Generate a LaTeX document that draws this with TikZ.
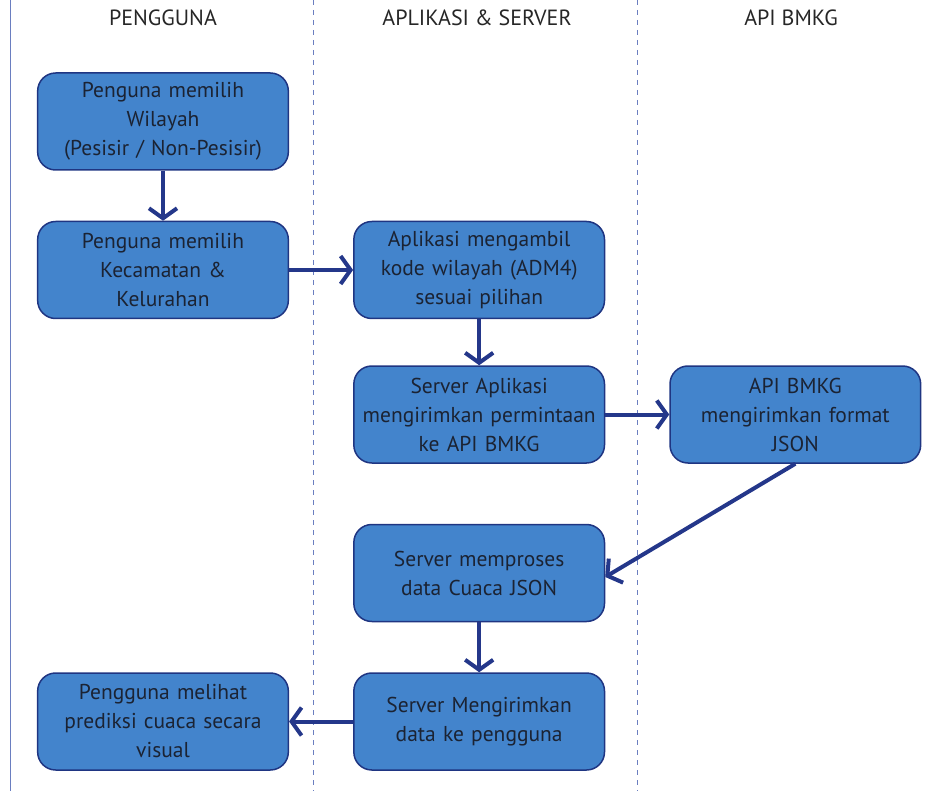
\documentclass[tikz,border=0pt]{standalone}
\usepackage{fontspec}
\setmainfont{PT Sans}
\usepackage{tikz}
\usetikzlibrary{positioning}
\usetikzlibrary{arrows.meta}

\definecolor{boxfill}{HTML}{4384CC}
\definecolor{boxline}{HTML}{1F3582}
\definecolor{arrowcol}{HTML}{24378A}
\definecolor{lanecol}{HTML}{6A7EC0}
\definecolor{txtcol}{HTML}{1B2333}

\begin{document}
\begin{tikzpicture}[x=1pt,y=-1pt,
    box/.style={draw=boxline, line width=1.5pt, fill=boxfill, rounded corners=18pt,
        minimum width=250pt, minimum height=97pt, text width=244pt, align=center,
        text=txtcol, font=\fontsize{21.5}{29}\selectfont},
    flow/.style={draw=arrowcol, line width=4pt, -{Straight Barb[length=10pt,width=28pt,line width=4pt]}},
    lane/.style={draw=lanecol, line width=1pt},
    head/.style={text=black!85, font=\fontsize{22}{24}\selectfont}]
            \useasboundingbox (0,0) rectangle (939,791);

            % swimlanes
            \draw[lane] (10,0) -- (10,791);
            \draw[lane, dash pattern=on 5pt off 5pt] (313,0) -- (313,791);
            \draw[lane, dash pattern=on 5pt off 5pt] (637,0) -- (637,791);
            \node(hp) at (163,18) [head] {PENGGUNA};
            \node(ha) at (477,18) [head] {APLIKASI \& SERVER};
            \node(hb) at (791,18) [head] {API BMKG};

            \node(wil) [box] at (163,121.5) {Penguna memilih\\Wilayah\\(Pesisir / Non-Pesisir)};
            \node(kec) [box, below=50pt of wil] {Penguna memilih\\Kecamatan \&\\Kelurahan};
            \node(kode) [box, right=64pt of kec] {Aplikasi mengambil\\kode wilayah (ADM4)\\sesuai pilihan};
            \node(req) [box, below=46pt of kode] {Server Aplikasi\\mengirimkan permintaan\\ke API BMKG};
            \node(json) [box, right=64pt of req] {API BMKG\\mengirimkan format\\JSON};
            \node(proses) [box, below=60pt of req] {Server memproses\\data Cuaca JSON};
            \node(kirim) [box, below=50pt of proses] {Server Mengirimkan\\data ke pengguna};
            \node(lihat) [box, left=64pt of kirim] {Pengguna melihat\\prediksi cuaca secara\\visual};

            \draw[flow] (wil) -- (kec);
            \draw[flow] (kec) -- (kode);
            \draw[flow] (kode) -- (req);
            \draw[flow] (req) -- (json);
            \draw[flow] (json.south) -- ([yshift=-4pt] proses.east);
            \draw[flow] (proses) -- (kirim);
            \draw[flow] (kirim) -- (lihat);
        \end{tikzpicture}
\end{document}
